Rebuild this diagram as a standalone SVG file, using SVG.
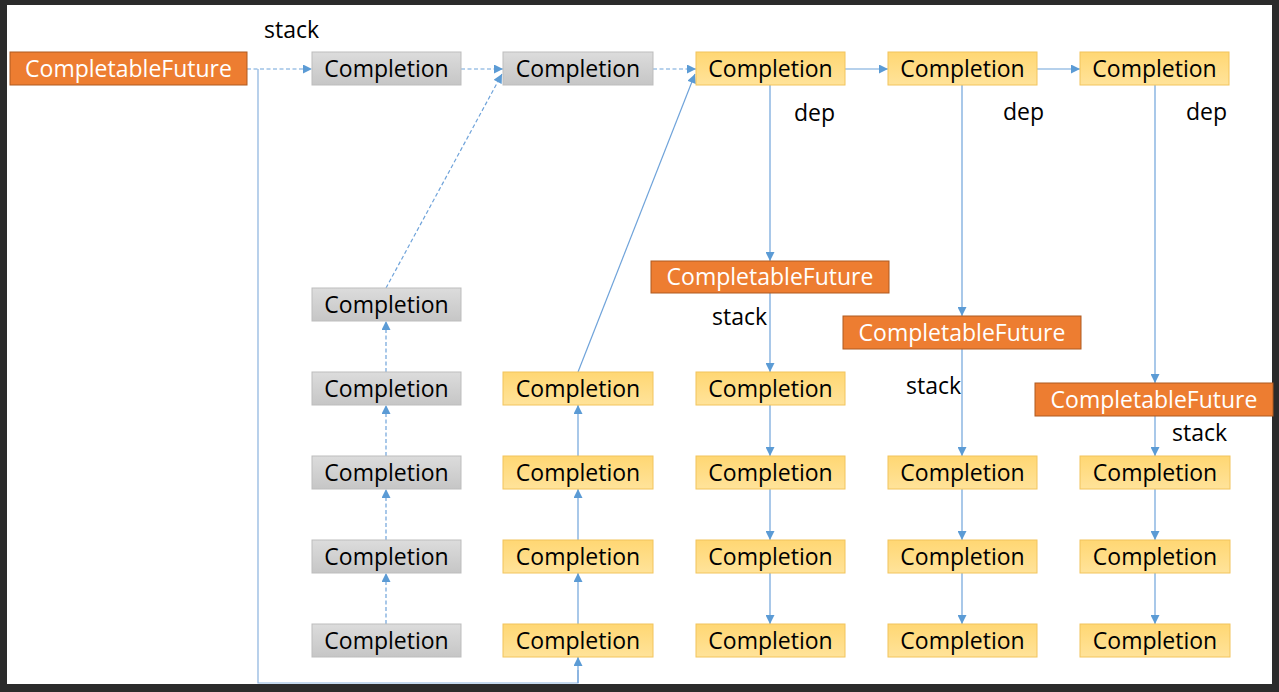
<svg xmlns="http://www.w3.org/2000/svg" width="1279" height="692" viewBox="0 0 1279 692">
<defs>
<linearGradient id="gGray" x1="0" y1="0" x2="0" y2="1"><stop offset="0" stop-color="#DCDCDC"/><stop offset="1" stop-color="#C6C6C6"/></linearGradient>
<linearGradient id="gYel" x1="0" y1="0" x2="0" y2="1"><stop offset="0" stop-color="#FFD773"/><stop offset="1" stop-color="#FFE39A"/></linearGradient>
<marker id="arr" viewBox="0 0 10 10" refX="10" refY="5" markerWidth="10" markerHeight="9" markerUnits="userSpaceOnUse" orient="auto"><path d="M0,0 L10,5 L0,10 Z" fill="#5B9BD5"/></marker>
<style>
.cf rect{fill:#ED7D31;stroke:#AE5A21;stroke-width:1}
.cf text{fill:#fff}
.gr rect{fill:url(#gGray);stroke:#BDBDBD;stroke-width:1}
.ye rect{fill:url(#gYel);stroke:#F2C45C;stroke-width:1}
text{font-family:"Open Sans","Liberation Sans",sans-serif;font-size:23px;fill:#000;text-anchor:middle}
.lbl{text-anchor:start}
.c{fill:none;stroke:#6FA3DA;stroke-width:1.2;marker-end:url(#arr)}
.d{stroke-dasharray:4,2.5}
.p{fill:none;stroke:#8AB2DE;stroke-width:1.2}
</style>
</defs>
<rect x="0" y="0" width="1279" height="692" fill="#2B2B2B"/>
<rect x="7" y="5" width="1265" height="679" fill="#FFFFFF"/>

<g id="connectors">
<line class="c d" x1="247" y1="69" x2="312" y2="69"/>
<line class="c d" x1="461" y1="69" x2="503" y2="69"/>
<line class="c d" x1="653" y1="69" x2="696" y2="69"/>
<line class="c" x1="845" y1="69" x2="888" y2="69"/>
<line class="c" x1="1037" y1="69" x2="1080" y2="69"/>
<polyline class="p" points="258,69 258,683 578,683 578,670"/>
<line class="c" x1="578" y1="683" x2="578" y2="657"/>
<line class="c d" x1="386" y1="288" x2="502" y2="74"/>
<line class="c" x1="578" y1="372" x2="695" y2="74"/>
<line class="c d" x1="386" y1="624" x2="386" y2="573"/>
<line class="c d" x1="386" y1="540" x2="386" y2="489"/>
<line class="c d" x1="386" y1="456" x2="386" y2="405"/>
<line class="c d" x1="386" y1="372" x2="386" y2="321"/>
<line class="c" x1="578" y1="624" x2="578" y2="573"/>
<line class="c" x1="578" y1="540" x2="578" y2="489"/>
<line class="c" x1="578" y1="456" x2="578" y2="405"/>
<line class="c" x1="770" y1="85" x2="770" y2="261"/>
<line class="c" x1="770" y1="293" x2="770" y2="372"/>
<line class="c" x1="770" y1="405" x2="770" y2="456"/>
<line class="c" x1="770" y1="489" x2="770" y2="540"/>
<line class="c" x1="770" y1="573" x2="770" y2="624"/>
<line class="c" x1="962" y1="85" x2="962" y2="316"/>
<line class="c" x1="962" y1="349" x2="962" y2="456"/>
<line class="c" x1="962" y1="489" x2="962" y2="540"/>
<line class="c" x1="962" y1="573" x2="962" y2="624"/>
<line class="c" x1="1155" y1="85" x2="1155" y2="383"/>
<line class="c" x1="1155" y1="416" x2="1155" y2="456"/>
<line class="c" x1="1155" y1="489" x2="1155" y2="540"/>
<line class="c" x1="1155" y1="573" x2="1155" y2="624"/>
</g>

<g id="labels">
<text class="lbl" x="264" y="38">stack</text>
<text class="lbl" x="794" y="121">dep</text>
<text class="lbl" x="1003" y="120">dep</text>
<text class="lbl" x="1186" y="120">dep</text>
<text class="lbl" x="712" y="325">stack</text>
<text class="lbl" x="906" y="394">stack</text>
<text class="lbl" x="1172" y="441">stack</text>
</g>

<g id="cf0" class="cf"><rect x="10" y="52" width="237" height="33"/><text x="128.5" y="77">CompletableFuture</text></g>
<g id="cf3" class="cf"><rect x="651" y="261" width="238" height="32"/><text x="770" y="285">CompletableFuture</text></g>
<g id="cf4" class="cf"><rect x="843" y="316" width="238" height="33"/><text x="962" y="341">CompletableFuture</text></g>
<g id="cf5" class="cf"><rect x="1035" y="383" width="238" height="33"/><text x="1154" y="408">CompletableFuture</text></g>

<g id="g1_0" class="gr"><rect x="312" y="52" width="149" height="33"/><text x="386.5" y="77">Completion</text></g>
<g id="g2_0" class="gr"><rect x="503" y="52" width="150" height="33"/><text x="578" y="77">Completion</text></g>
<g id="g1_1" class="gr"><rect x="312" y="288" width="149" height="33"/><text x="386.5" y="313">Completion</text></g>
<g id="g1_2" class="gr"><rect x="312" y="372" width="149" height="33"/><text x="386.5" y="397">Completion</text></g>
<g id="g1_3" class="gr"><rect x="312" y="456" width="149" height="33"/><text x="386.5" y="481">Completion</text></g>
<g id="g1_4" class="gr"><rect x="312" y="540" width="149" height="33"/><text x="386.5" y="565">Completion</text></g>
<g id="g1_5" class="gr"><rect x="312" y="624" width="149" height="33"/><text x="386.5" y="649">Completion</text></g>

<g id="y2_2" class="ye"><rect x="503" y="372" width="150" height="33"/><text x="578" y="397">Completion</text></g>
<g id="y2_3" class="ye"><rect x="503" y="456" width="150" height="33"/><text x="578" y="481">Completion</text></g>
<g id="y2_4" class="ye"><rect x="503" y="540" width="150" height="33"/><text x="578" y="565">Completion</text></g>
<g id="y2_5" class="ye"><rect x="503" y="624" width="150" height="33"/><text x="578" y="649">Completion</text></g>

<g id="y3_0" class="ye"><rect x="696" y="52" width="149" height="33"/><text x="770.5" y="77">Completion</text></g>
<g id="y3_2" class="ye"><rect x="696" y="372" width="149" height="33"/><text x="770.5" y="397">Completion</text></g>
<g id="y3_3" class="ye"><rect x="696" y="456" width="149" height="33"/><text x="770.5" y="481">Completion</text></g>
<g id="y3_4" class="ye"><rect x="696" y="540" width="149" height="33"/><text x="770.5" y="565">Completion</text></g>
<g id="y3_5" class="ye"><rect x="696" y="624" width="149" height="33"/><text x="770.5" y="649">Completion</text></g>

<g id="y4_0" class="ye"><rect x="888" y="52" width="149" height="33"/><text x="962.5" y="77">Completion</text></g>
<g id="y4_3" class="ye"><rect x="888" y="456" width="149" height="33"/><text x="962.5" y="481">Completion</text></g>
<g id="y4_4" class="ye"><rect x="888" y="540" width="149" height="33"/><text x="962.5" y="565">Completion</text></g>
<g id="y4_5" class="ye"><rect x="888" y="624" width="149" height="33"/><text x="962.5" y="649">Completion</text></g>

<g id="y5_0" class="ye"><rect x="1080" y="52" width="149" height="33"/><text x="1154.5" y="77">Completion</text></g>
<g id="y5_3" class="ye"><rect x="1080" y="456" width="150" height="33"/><text x="1155" y="481">Completion</text></g>
<g id="y5_4" class="ye"><rect x="1080" y="540" width="150" height="33"/><text x="1155" y="565">Completion</text></g>
<g id="y5_5" class="ye"><rect x="1080" y="624" width="150" height="33"/><text x="1155" y="649">Completion</text></g>
</svg>
